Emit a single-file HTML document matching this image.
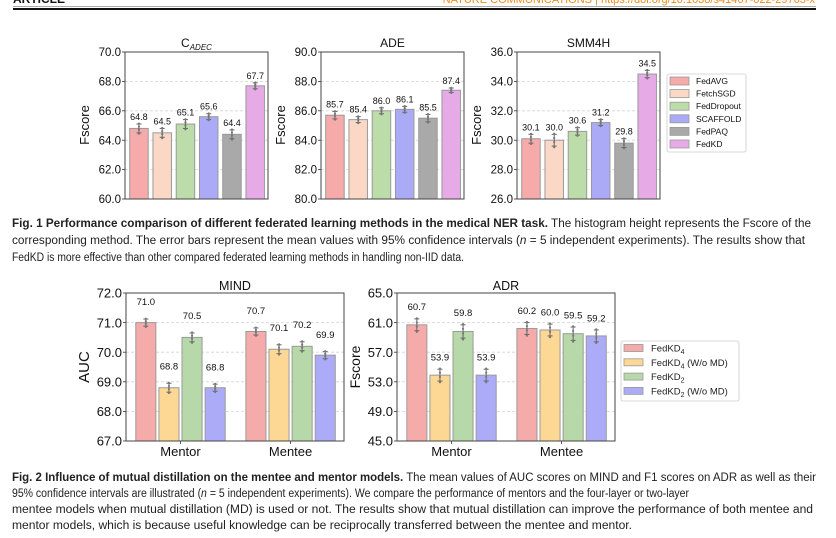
<!DOCTYPE html>
<html><head><meta charset="utf-8">
<style>
html,body{margin:0;padding:0;background:#fff;}
svg{display:block;font-family:"Liberation Sans",Arial,sans-serif;}
</style></head>
<body>
<svg id="page" width="836" height="538" viewBox="0 0 836 538" xmlns="http://www.w3.org/2000/svg">
  <g>
    <text x="13" y="3" font-size="12" font-weight="bold" fill="#111">ARTICLE</text>
    <text x="815" y="3" font-size="11" fill="#f08a1c" text-anchor="end">NATURE COMMUNICATIONS | https://doi.org/10.1038/s41467-022-29763-x</text>
    <line x1="13" y1="6.5" x2="816" y2="6.5" stroke="#aaa" stroke-width="1"/>
    <line x1="13" y1="9" x2="816" y2="9" stroke="#111" stroke-width="2"/>
  </g>
  <g id="charts"></g>
  <g font-size="11.5" fill="#222">
    <text x="12" y="227" textLength="799" lengthAdjust="spacingAndGlyphs"><tspan font-weight="bold">Fig. 1 Performance comparison of different federated learning methods in the medical NER task.</tspan> The histogram height represents the Fscore of the</text>
    <text x="12" y="244" textLength="793" lengthAdjust="spacingAndGlyphs">corresponding method. The error bars represent the mean values with 95% confidence intervals (<tspan font-style="italic">n</tspan> = 5 independent experiments). The results show that</text>
    <text x="12" y="261" textLength="452" lengthAdjust="spacingAndGlyphs">FedKD is more effective than other compared federated learning methods in handling non-IID data.</text>
  </g>
  <g font-size="11.5" fill="#222">
    <text x="12" y="481" textLength="804" lengthAdjust="spacingAndGlyphs"><tspan font-weight="bold">Fig. 2 Influence of mutual distillation on the mentee and mentor models.</tspan> The mean values of AUC scores on MIND and F1 scores on ADR as well as their</text>
    <text x="12" y="497" textLength="677" lengthAdjust="spacingAndGlyphs">95% confidence intervals are illustrated (<tspan font-style="italic">n</tspan> = 5 independent experiments). We compare the performance of mentors and the four-layer or two-layer</text>
    <text x="12" y="513" textLength="801" lengthAdjust="spacingAndGlyphs">mentee models when mutual distillation (MD) is used or not. The results show that mutual distillation can improve the performance of both mentee and</text>
    <text x="12" y="529" textLength="620" lengthAdjust="spacingAndGlyphs">mentor models, which is because useful knowledge can be reciprocally transferred between the mentee and mentor.</text>
  </g>
</svg>
<script>
// ---- Fig 1 data ----
const fig1Methods = ["FedAVG","FetchSGD","FedDropout","SCAFFOLD","FedPAQ","FedKD"];
const fig1Colors = ["#f6aaaa","#fbd8c6","#bcdcaa","#aaaaf6","#a9a9a9","#e6aae6"];
const cadecValues = [64.8,64.5,65.1,65.6,64.4,67.7];
const cadecErr = [0.3,0.3,0.3,0.2,0.3,0.2];
const cadecTicks = [60,62,64,66,68,70];
const adeValues = [85.7,85.4,86.0,86.1,85.5,87.4];
const adeErr = [0.25,0.2,0.2,0.2,0.25,0.15];
const adeTicks = [80,82,84,86,88,90];
const smmValues = [30.1,30.0,30.6,31.2,29.8,34.5];
const smmErr = [0.3,0.4,0.25,0.2,0.3,0.25];
const smmTicks = [26,28,30,32,34,36];
// ---- Fig 2 data ----
const fig2Categories = ["Mentor","Mentee"];
const fig2Series = ["FedKD4","FedKD4 (W/o MD)","FedKD2","FedKD2 (W/o MD)"];
const fig2Colors = ["#f6abab","#fcd894","#b7d8a9","#ababf7"];
const mindMentor = [71.0,68.8,70.5,68.8];
const mindMentee = [70.7,70.1,70.2,69.9];
const mindErr = [0.12,0.15,0.15,0.12];
const mindTicks = [67,68,69,70,71,72];
const adrMentor = [60.7,53.9,59.8,53.9];
const adrMentee = [60.2,60.0,59.5,59.2];
const adrErr = [0.8,0.8,0.9,0.8];
const adrTicks = [45,49,53,57,61,65];

const NS="http://www.w3.org/2000/svg";
const root=document.getElementById('charts');
function mk(tag,attrs,parent){const e=document.createElementNS(NS,tag);for(const k in attrs)e.setAttribute(k,attrs[k]);(parent||root).appendChild(e);return e;}
function fmt(v){return v.toFixed(1);}

function axesFrame(g,x0,x1,y0,y1,ticks,ys,fs){
  ticks.forEach(t=>{
    const y=ys(t);
    if(t!==ticks[0]&&t!==ticks[ticks.length-1]){
      const gl=mk('line',{x1:x0,x2:x1,y1:y,y2:y,stroke:'#d4d4d4','stroke-width':0.8,'stroke-dasharray':'3,2'},g);
      
      
    }
    const tk=mk('line',{x1:x0-3,x2:x0,y1:y,y2:y,stroke:'#333','stroke-width':0.8},g);
    
    
    const tl=mk('text',{x:x0-4,y:y+fs*0.36,'font-size':fs,'text-anchor':'end',fill:'#111'},g);
    tl.textContent=fmt(t);
    
    
  });
}
function frame(g,x0,x1,y0,y1){
  const r=mk('rect',{x:x0,y:y0,width:x1-x0,height:y1-y0,fill:'none',stroke:'#444','stroke-width':1},g);
  
  
}
function errBar(g,cx,ys,v,e,w){
  const yt=ys(v+e), yb=ys(v-e);
  const l=mk('line',{x1:cx,x2:cx,y1:yt,y2:yb,stroke:'#666','stroke-width':1},g);
  
  
  [yt,yb].forEach(y=>{
    const c=mk('line',{x1:cx-w,x2:cx+w,y1:y,y2:y,stroke:'#666','stroke-width':1},g);
    
    
  });
  [v+e*1.1,v+e*0.4,v-e*0.3,v-e*1.2].forEach(d=>{
    const p=mk('circle',{cx:cx,cy:ys(d),r:1.1,fill:'#777'},g);
    
    
  });
}

// ---- Fig 1 panels ----
const panels1=[
  {name:'cadec',title:'C',sub:'ADEC',vals:cadecValues,err:cadecErr,ticks:cadecTicks,x0:125,x1:268},
  {name:'ade',title:'ADE',vals:adeValues,err:adeErr,ticks:adeTicks,x0:321,x1:464},
  {name:'smm4h',title:'SMM4H',vals:smmValues,err:smmErr,ticks:smmTicks,x0:517,x1:660}
];
panels1.forEach(p=>{
  const g=mk('g',{});
  
  
  const y0=52,y1=199,lo=p.ticks[0],hi=p.ticks[p.ticks.length-1];
  const ys=v=>y1-(v-lo)/(hi-lo)*(y1-y0);
  const step=(p.x1-p.x0)/6.15;
  const xs=i=>p.x0+step*(i+0.6);
  axesFrame(g,p.x0,p.x1,y0,y1,p.ticks,ys,11.5);
  p.vals.forEach((v,i)=>{
    const cx=xs(i),w=18.5;
    const b=mk('rect',{x:cx-w/2,y:ys(v),width:w,height:y1-ys(v),fill:fig1Colors[i],stroke:'#9a9a9a','stroke-width':1},g);
    
    
    errBar(g,cx,ys,v,p.err[i],2.5);
    const t=mk('text',{x:cx,y:ys(v+p.err[i])-4,'font-size':9,'text-anchor':'middle',fill:'#111'},g);
    t.textContent=fmt(v);
    
    
  });
  frame(g,p.x0,p.x1,y0,y1);
  const tt=mk('text',{x:(p.x0+p.x1)/2,y:47,'font-size':12,'text-anchor':'middle',fill:'#111'},g);
  
  
  tt.textContent=p.title;
  if(p.sub){const s=mk('tspan',{'font-size':8,'font-style':'italic',dy:3},tt);s.textContent=p.sub;}
  const yl=mk('text',{x:0,y:0,'font-size':13,'text-anchor':'middle',fill:'#111',transform:`translate(${p.x0-36},125) rotate(-90)`},g);
  yl.textContent='Fscore';
  
  
});
// legend 1
(function(){
  const g=mk('g',{});
  
  
  const r=mk('rect',{x:667,y:74,width:79,height:78,rx:2,fill:'#fff',stroke:'#ccc','stroke-width':0.8},g);
  
  
  fig1Methods.forEach((m,i)=>{
    const y=81+i*12.6;
    const sw=mk('rect',{x:670,y:y-4,width:19,height:8,fill:fig1Colors[i],stroke:'#999','stroke-width':0.8},g);
    
    
    const t=mk('text',{x:696,y:y+3,'font-size':8.5,fill:'#111'},g);
    t.textContent=m;
    
    
  });
})();

// ---- Fig 2 panels ----
const panels2=[
  {name:'mind',title:'MIND',ylab:'AUC',ylfs:15,groups:[mindMentor,mindMentee],err:mindErr,ticks:mindTicks,x0:126,x1:344,lab:0.4},
  {name:'adr',title:'ADR',ylab:'Fscore',ylfs:14,groups:[adrMentor,adrMentee],err:adrErr,ticks:adrTicks,x0:397,x1:615,lab:0.9}
];
panels2.forEach(p=>{
  const g=mk('g',{});
  
  
  const y0=293,y1=441,lo=p.ticks[0],hi=p.ticks[p.ticks.length-1];
  const ys=v=>y1-(v-lo)/(hi-lo)*(y1-y0);
  const W=p.x1-p.x0, catStep=W*0.505, barStep=W*0.106, bw=W*0.092;
  const xs=(c,j)=>p.x0+W*0.045+c*catStep+j*barStep;
  axesFrame(g,p.x0,p.x1,y0,y1,p.ticks,ys,13);
  p.groups.forEach((vals,c)=>{
    vals.forEach((v,j)=>{
      const x=xs(c,j),cx=x+bw/2;
      const b=mk('rect',{x:x,y:ys(v),width:bw,height:y1-ys(v),fill:fig2Colors[j],stroke:'#9a9a9a','stroke-width':1},g);
      
      
      errBar(g,cx,ys,v,p.err[j],2.5);
      const t=mk('text',{x:cx,y:ys(v+p.err[j]+p.lab)-2,'font-size':9.5,'text-anchor':'middle',fill:'#111'},g);
      t.textContent=fmt(v);
      
      
    });
    const cc=xs(c,0)+(3*barStep+bw)/2;
    const tk=mk('line',{x1:cc,x2:cc,y1:y1,y2:y1+3,stroke:'#333','stroke-width':0.8},g);
    
    
    const ct=mk('text',{x:cc,y:y1+15,'font-size':13,'text-anchor':'middle',fill:'#111'},g);
    ct.textContent=fig2Categories[c];
    
    
  });
  frame(g,p.x0,p.x1,y0,y1);
  const tt=mk('text',{x:(p.x0+p.x1)/2,y:290,'font-size':12.5,'text-anchor':'middle',fill:'#111'},g);
  tt.textContent=p.title;
  
  
  const yl=mk('text',{x:0,y:0,'font-size':p.ylfs,'text-anchor':'middle',fill:'#111',transform:`translate(${p.x0-37},367) rotate(-90)`},g);
  yl.textContent=p.ylab;
  
  
});
// legend 2
(function(){
  const g=mk('g',{});
  
  
  const r=mk('rect',{x:621,y:341,width:118,height:60,rx:2,fill:'#fff',stroke:'#ccc','stroke-width':0.8},g);
  
  
  fig2Series.forEach((s,i)=>{
    const y=348+i*14.3;
    const sw=mk('rect',{x:624,y:y-3.5,width:19,height:7,fill:fig2Colors[i],stroke:'#999','stroke-width':0.8},g);
    
    
    const t=mk('text',{x:651,y:y+3.5,'font-size':9.5,fill:'#222'},g);
    
    
    const base=mk('tspan',{},t);base.textContent='FedKD';
    const sub=mk('tspan',{'font-size':7,dy:2.5},t);sub.textContent=s.charAt(5);
    if(s.length>6){const rest=mk('tspan',{dy:-2.5},t);rest.textContent=s.slice(6);}
  });
})();
</script>
</body></html>
